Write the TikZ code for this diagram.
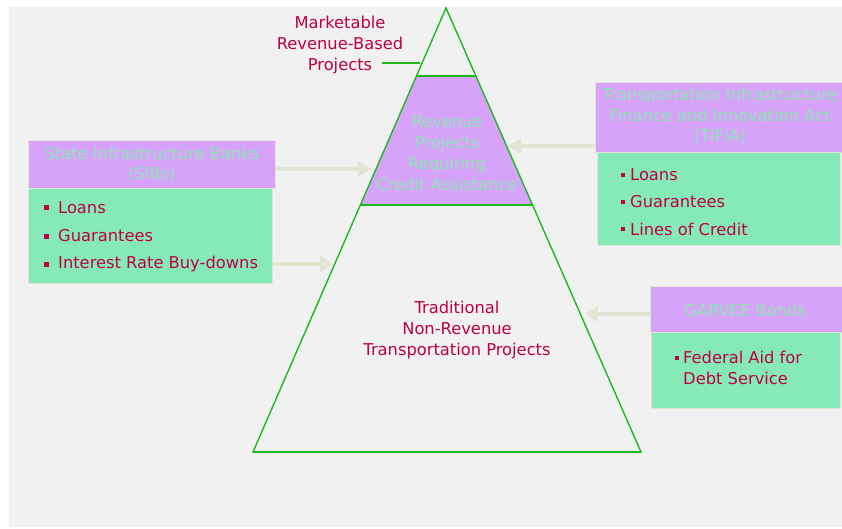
\documentclass[tikz,border=0pt]{standalone}
\usepackage{fontspec}
\setmainfont{DejaVu Sans}
\usetikzlibrary{arrows.meta}

\definecolor{bgray}{RGB}{241,241,241}
\definecolor{lilac}{RGB}{214,162,250}
\definecolor{mint}{RGB}{134,234,184}
\definecolor{paletxt}{RGB}{140,230,175}
\definecolor{crimson}{RGB}{190,0,70}
\definecolor{pgreen}{RGB}{30,185,30}
\definecolor{beige}{RGB}{228,228,210}

\tikzset{
  txt/.style={font=\fontsize{16.3}{20.8}\selectfont, inner sep=0pt},
  darktxt/.style={txt, text=crimson},
  lighttxt/.style={txt, text=paletxt},
  headbox/.style={fill=lilac, draw=beige, line width=0.6pt},
  bodybox/.style={fill=mint, draw=beige, line width=0.6pt},
  feed/.style={draw=beige, line width=4pt, -{Triangle[width=15pt,length=13pt]}},
  pyr/.style={draw=pgreen, line width=1.4pt},
  band/.style={draw=pgreen, line width=2pt},
  bul/.style={fill=crimson, minimum size=5pt, inner sep=0pt},
  smallbul/.style={fill=crimson, minimum size=3.5pt, inner sep=0pt},
}

\begin{document}
\begin{tikzpicture}[x=1pt,y=-1pt]
\useasboundingbox (0,0) rectangle (842,529);
\fill[bgray] (9,7) rectangle (842,527);

% pyramid: shaded credit-assistance band, outline, band edges
\fill[lilac] (416.4,76) -- (476,76) -- (532.6,205) -- (360.4,205) -- cycle;
\draw[pyr] (446,8) -- (641,452) -- (253,452) -- cycle;
\draw[band] (416.4,76) -- (476,76);
\draw[band] (360.4,205) -- (532.6,205);
\draw[band] (253,452) -- (641,452);

\node[darktxt, align=center] (mkt) at (340,45) {Marketable\\Revenue-Based\\Projects};
\coordinate (mktend) at (420,63);
\draw[pgreen, line width=1.2pt] (382,63) -- (mktend);

\node[lighttxt, align=center] (rev) at (447,153) {Revenue\\Projects\\Requiring\\Credit Assistance};
\node[darktxt, align=center] (trad) at (457,330) {Traditional\\Non-Revenue\\Transportation Projects};

% State Infrastructure Banks
\node[headbox, minimum width=247pt, minimum height=48pt, anchor=north west] (sibh) at (28,140) {};
\node[lighttxt, align=center] (sibt) at (sibh.center) {State Infrastructure Banks\\(SIBs)};
\node[bodybox, minimum width=244pt, minimum height=95pt, anchor=north west] (sibb) at (28,188) {};
\node[bul] (sb1) at (46,208) {};
\node[darktxt, anchor=west] (sl1) at (58,208) {Loans};
\node[bul] (sb2) at (46,236) {};
\node[darktxt, anchor=west] (sl2) at (58,236) {Guarantees};
\node[bul] (sb3) at (46,264) {};
\node[darktxt, anchor=west] (sl3) at (58,264) {Interest Rate Buy-downs};

% TIFIA
\node[headbox, minimum width=250pt, minimum height=70pt, anchor=north west] (tih) at (595,82) {};
\node[lighttxt, align=center] (tit) at (720,116) {Transportation Infrastructure\\Finance and Innovation Act\\(TIFIA)};
\node[bodybox, minimum width=243pt, minimum height=93pt, anchor=north west] (tib) at (597,152) {};
\node[smallbul] (tb1) at (623,175) {};
\node[darktxt, anchor=west] (tl1) at (630,175) {Loans};
\node[smallbul] (tb2) at (623,202) {};
\node[darktxt, anchor=west] (tl2) at (630,202) {Guarantees};
\node[smallbul] (tb3) at (623,229) {};
\node[darktxt, anchor=west] (tl3) at (630,229) {Lines of Credit};

% GARVEE
\node[headbox, minimum width=195pt, minimum height=46pt, anchor=north west] (gah) at (650,286) {};
\node[lighttxt] (gat) at (745,310) {GARVEE Bonds};
\node[bodybox, minimum width=189pt, minimum height=76pt, anchor=north west] (gab) at (651,332) {};
\node[smallbul] (gb1) at (677,358) {};
\node[darktxt, anchor=west, align=left] (gl1) at (683,368) {Federal Aid for\\Debt Service};

% feeder arrows into the pyramid
\coordinate (a1) at (371,169);
\coordinate (a2) at (333,264);
\coordinate (a3) at (508,146);
\coordinate (a4) at (585,314);
\draw[feed] (sibh.east |- a1) -- (a1);
\draw[feed] (sibb.east |- a2) -- (a2);
\draw[feed] (tih.west |- a3) -- (a3);
\draw[feed] (gah.west |- a4) -- (a4);
\end{tikzpicture}
\end{document}
